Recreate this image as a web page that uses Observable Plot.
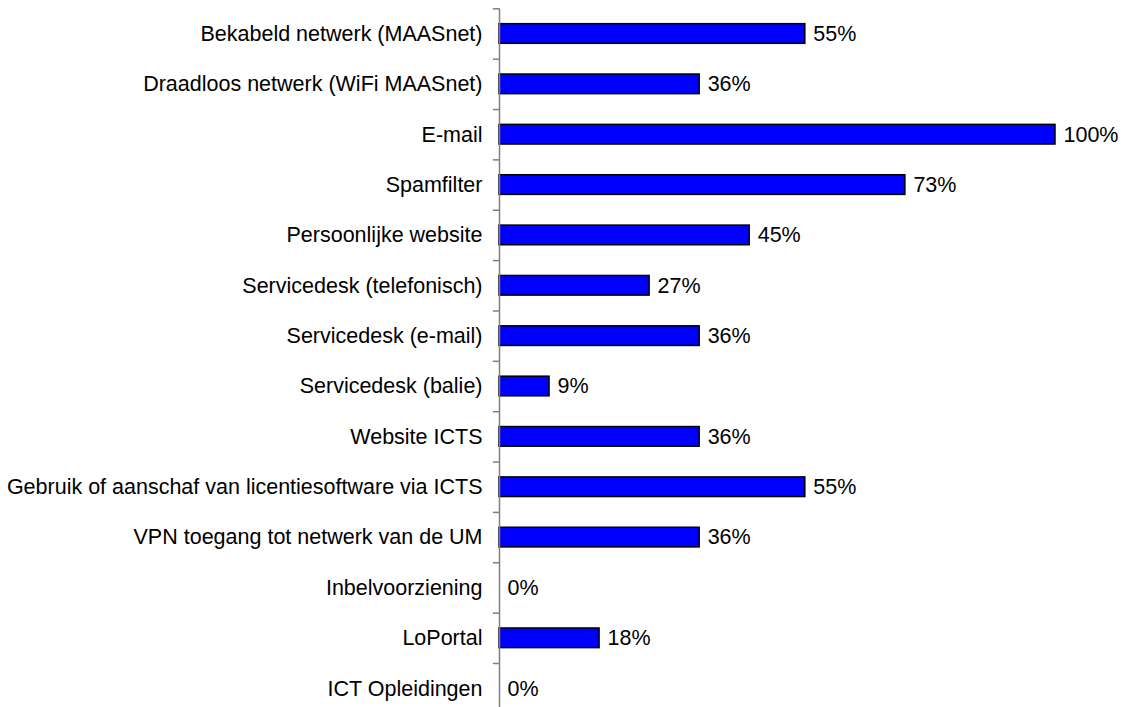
<!DOCTYPE html>
<html>
<head>
<meta charset="utf-8">
<script src="https://cdn.jsdelivr.net/npm/d3@7"></script>
<script src="https://cdn.jsdelivr.net/npm/@observablehq/plot@0.6"></script>
<style>
  html, body { margin: 0; padding: 0; background: #fff; overflow: hidden; }
  svg { overflow: visible; }
</style>
</head>
<body>
<div id="chart"></div>
<script>
const categories = [
  "Bekabeld netwerk (MAASnet)",
  "Draadloos netwerk (WiFi MAASnet)",
  "E-mail",
  "Spamfilter",
  "Persoonlijke website",
  "Servicedesk (telefonisch)",
  "Servicedesk (e-mail)",
  "Servicedesk (balie)",
  "Website ICTS",
  "Gebruik of aanschaf van licentiesoftware via ICTS",
  "VPN toegang tot netwerk van de UM",
  "Inbelvoorziening",
  "LoPortal",
  "ICT Opleidingen"
];
const values = [55, 36, 100, 73, 45, 27, 36, 9, 36, 55, 36, 0, 18, 0];

const data = categories.map((c, i) => ({category: c, value: values[i]}));

const chartTop = 8.3, step = 50.36, fs = 21.5;
const chart = Plot.plot({
  width: 1124,
  height: 707,
  marginLeft: 499,
  marginRight: 69,
  marginTop: chartTop,
  marginBottom: 0,
  style: {fontFamily: "Arial, 'Liberation Sans', sans-serif", fontSize: fs + "px", color: "#000", background: "#fff", overflow: "visible"},
  x: {domain: [0, 100], axis: null},
  y: {domain: categories, range: [chartTop, chartTop + step * categories.length], paddingInner: 0.61, paddingOuter: 0.305, round: false, label: null},
  marks: [
    Plot.axisY({tickSize: 0, tickPadding: 17, fontSize: fs, fill: "#000"}),
    Plot.barX(data, {y: "category", x: "value", fill: "#0000ff", stroke: "#000", strokeWidth: 1.5}),
    Plot.text(data, {y: "category", x: "value", text: d => d.value + "%", dx: 8, textAnchor: "start", fontSize: fs, fill: "#000"}),
    Plot.ruleY(categories, {y: d => d, x1: -1.1, x2: 0, dy: -step / 2, stroke: "#808080", strokeWidth: 1.5}),
    Plot.ruleX([0], {stroke: "#808080", strokeWidth: 1.5})
  ]
});
document.getElementById("chart").appendChild(chart);
</script>
</body>
</html>
